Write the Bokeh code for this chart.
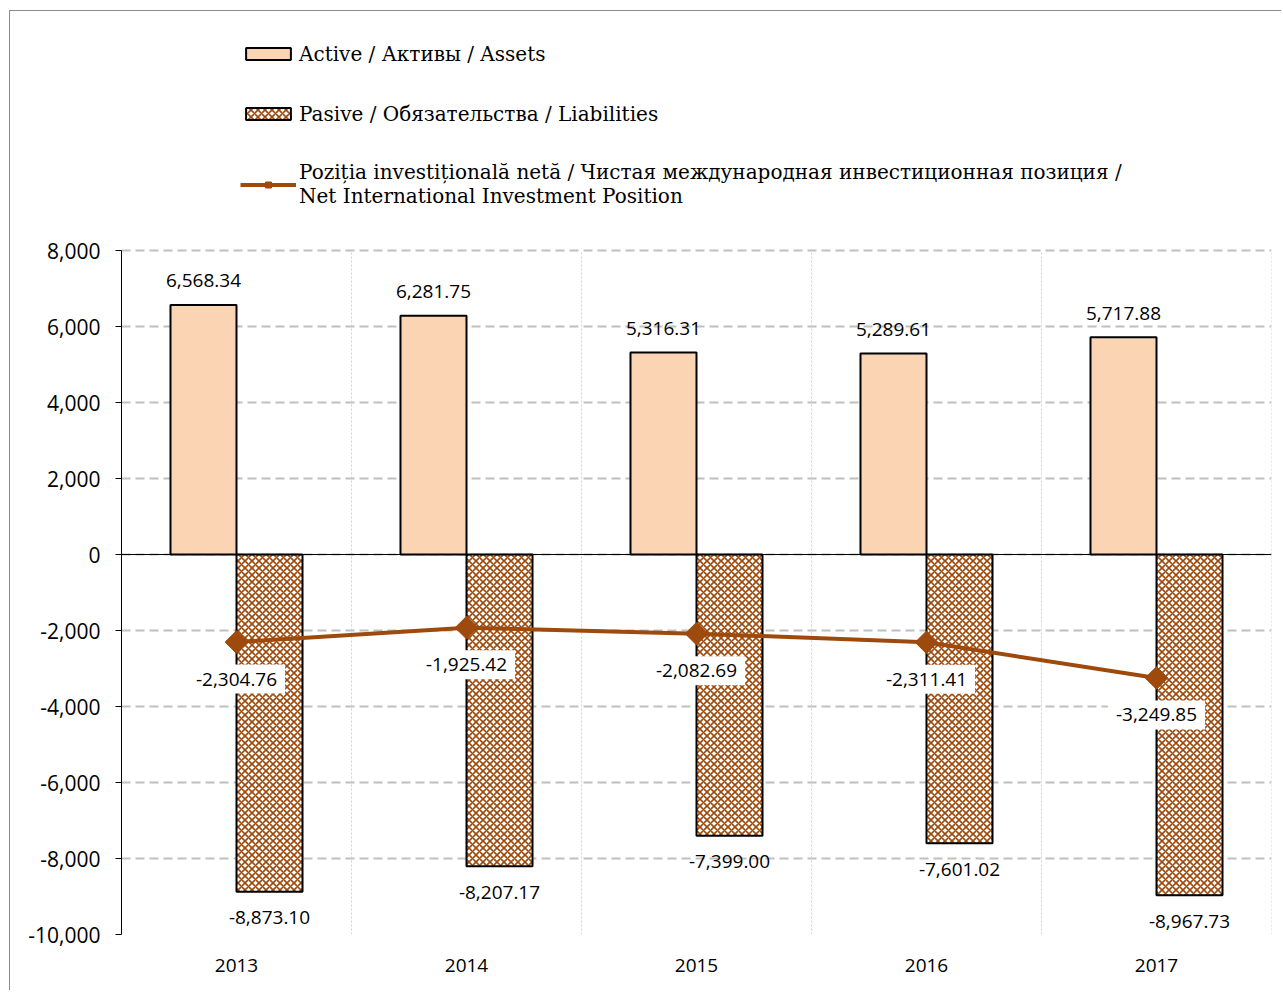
import numpy as np
from bokeh.plotting import figure
from bokeh.layouts import column, row
from bokeh.models import (ColumnDataSource, FixedTicker, NumeralTickFormatter, LabelSet,
                          Span, Legend, LegendItem, Range1d, Spacer)
from bokeh.core.properties import value
from bokeh.embed import file_html
from bokeh.resources import INLINE

years = ["2013", "2014", "2015", "2016", "2017"]
assets = [6568.34, 6281.75, 5316.31, 5289.61, 5717.88]
liabilities = [-8873.10, -8207.17, -7399.00, -7601.02, -8967.73]
niip = [-2304.76, -1925.42, -2082.69, -2311.41, -3249.85]
y_ticks = [-10000, -8000, -6000, -4000, -2000, 0, 2000, 4000, 6000, 8000]

legend_labels = [
    "Active / Активы / Assets",
    "Pasive / Обязательства / Liabilities",
    "Poziția investițională netă / Чистая международная инвестиционная позиция /\nNet International Investment Position",
]

def fmt(v):
    return f"{v:,.2f}"

# layout (pixels)
W, H = 1272, 980
PLOT_LEFT, PLOT_RIGHT_PAD, PLOT_BOTTOM_PAD = 111, 11, 57
AXIS_TOP_PX = 239           # distance from figure top to the top tick
frame_h = H - PLOT_BOTTOM_PAD
axis_h = frame_h - AXIS_TOP_PX
y_lo, y_hi = y_ticks[0], y_ticks[-1]
y_top = y_hi + AXIS_TOP_PX * (y_hi - y_lo) / axis_h   # headroom for the legend

centers = np.arange(len(years)) + 0.5
bounds = np.arange(1, len(years) + 1)
bar_w = 0.287
src = ColumnDataSource(dict(
    xc=centers,
    xa=centers - bar_w / 2,
    xl=centers + bar_w / 2,
    assets=assets,
    liab=liabilities,
    niip=niip,
    la=[fmt(v) for v in assets],
    ll=[fmt(v) for v in liabilities],
    ln=[fmt(v) for v in niip],
))

SANS = "Open Sans"
SERIF = "DejaVu Serif"
LINE_C = "#9E4A0C"

p = figure(width=W, height=H, output_backend="svg", toolbar_location=None,
           x_range=Range1d(0, len(years)), y_range=Range1d(y_lo, y_top),
           min_border_left=PLOT_LEFT, min_border_right=PLOT_RIGHT_PAD,
           min_border_top=0, min_border_bottom=PLOT_BOTTOM_PAD)
p.styles = {"border-left": "1px solid #8c8c8c", "border-top": "1px solid #8c8c8c"}
p.outline_line_color = None

# grids
p.ygrid.ticker = FixedTicker(ticks=y_ticks)
p.ygrid.grid_line_color = "#BFBFBF"
p.ygrid.grid_line_width = 2
p.ygrid.grid_line_dash = "9 5"
p.xgrid.visible = False
p.segment(x0=bounds, y0=[y_lo] * len(bounds), x1=bounds, y1=[y_hi] * len(bounds),
          line_color="#D0D0D0", line_width=1, line_dash="2 2")

# bars
r_a = p.vbar(x="xa", top="assets", bottom=0, width=bar_w, source=src,
             fill_color="#FBD4B4", line_color="black", line_width=2)
r_l = p.vbar(x="xl", top=0, bottom="liab", width=bar_w, source=src,
             fill_color="white", line_color="black", line_width=2,
             hatch_pattern="diagonal_cross", hatch_color=LINE_C, hatch_scale=7, hatch_weight=1.6)

p.add_layout(Span(location=0, dimension="width", line_color="black", line_width=1.2))

# line
r_line = p.line(x="xc", y="niip", source=src, line_color=LINE_C, line_width=4)
r_pts = p.scatter(x="xc", y="niip", source=src, marker="square", size=16, angle=np.pi / 4,
                  fill_color=LINE_C, line_color=LINE_C)

# labels
p.add_layout(LabelSet(x="xa", y="assets", text="la", source=src, y_offset=24,
                      text_align="center", text_baseline="middle",
                      text_font=value(SANS), text_font_size="19px", text_color="black"))
p.add_layout(LabelSet(x="xl", y="liab", text="ll", source=src, y_offset=-26,
                      text_align="center", text_baseline="middle",
                      text_font=value(SANS), text_font_size="19px", text_color="black"))
p.text(x="xc", y="niip", text="ln", source=src, y_offset=37,
       text_align="center", text_baseline="middle",
       text_font=value(SANS), text_font_size="19px", text_color="black",
       background_fill_color="white", padding=8)

# axes
p.yaxis.ticker = FixedTicker(ticks=y_ticks)
p.yaxis.bounds = (y_lo, y_hi)
p.yaxis.formatter = NumeralTickFormatter(format="0,0")
p.yaxis.major_label_text_font = SANS
p.yaxis.major_label_text_font_size = "21px"
p.yaxis.major_label_text_color = "black"
p.yaxis.axis_line_color = "black"
p.yaxis.major_tick_in = 0
p.yaxis.major_tick_out = 6
p.yaxis.minor_tick_line_color = None
p.yaxis.major_label_standoff = 15

p.xaxis.ticker = FixedTicker(ticks=list(centers))
p.xaxis.major_label_overrides = {float(c): y for c, y in zip(centers, years)}
p.xaxis.axis_line_color = None
p.xaxis.major_tick_line_color = None
p.xaxis.minor_tick_line_color = None
p.xaxis.major_label_text_font = SANS
p.xaxis.major_label_text_font_size = "19px"
p.xaxis.major_label_text_color = "black"
p.xaxis.major_label_standoff = 18

legend = Legend(items=[
    LegendItem(label=legend_labels[0], renderers=[r_a]),
    LegendItem(label=legend_labels[1], renderers=[r_l]),
    LegendItem(label=legend_labels[2], renderers=[r_line, r_pts]),
], location=(119, 726))
legend.label_text_font = SERIF
legend.label_text_font_size = "20px"
legend.label_text_line_height = 1.35
legend.label_text_color = "black"
legend.glyph_width = 56
legend.glyph_height = 15
legend.label_height = 27
legend.label_standoff = 3
legend.spacing = 33
legend.padding = 0
legend.margin = 0
legend.border_line_color = None
legend.background_fill_alpha = 0
p.add_layout(legend)

layout = column(Spacer(height=10), row(Spacer(width=9), p))
open("out.html", "w").write(file_html(layout, INLINE))
